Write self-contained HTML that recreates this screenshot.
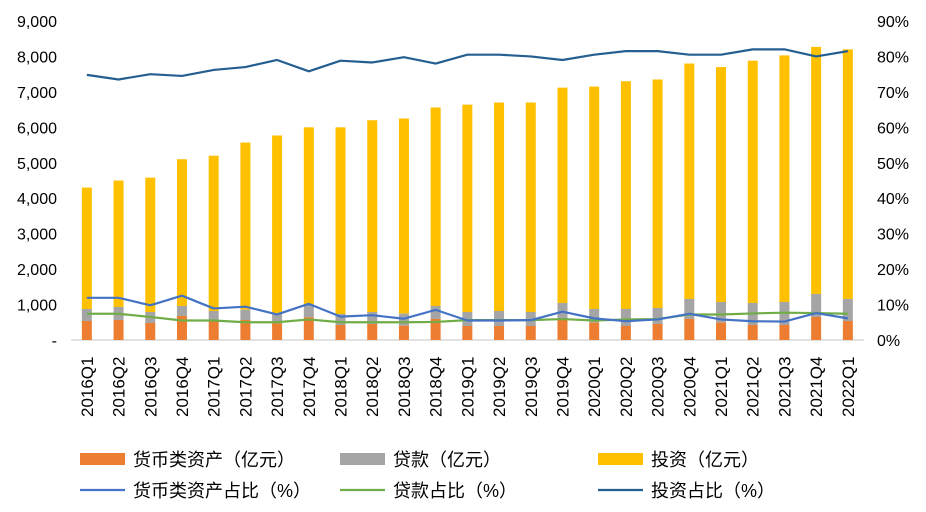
<!DOCTYPE html>
<html><head><meta charset="utf-8"><style>
body{margin:0;background:#fff;}
svg text{font-family:"Liberation Sans","Noto Sans CJK SC",sans-serif;}
</style></head><body>
<svg width="926" height="507" id="c"></svg>
<script>
const categories=["2016Q1","2016Q2","2016Q3","2016Q4","2017Q1","2017Q2","2017Q3","2017Q4","2018Q1","2018Q2","2018Q3","2018Q4","2019Q1","2019Q2","2019Q3","2019Q4","2020Q1","2020Q2","2020Q3","2020Q4","2021Q1","2021Q2","2021Q3","2021Q4","2022Q1"];
const monetary=[536,565,480,678,545,565,470,640,423,451,404,593,395,395,395,565,489,395,451,593,489,423,423,650,536];
const loans=[339,367,310,282,273,290,254,367,311,339,339,367,395,423,395,480,386,480,452,565,584,622,650,650,622];
const totals=[4300,4500,4580,5100,5200,5570,5770,6000,6000,6200,6250,6560,6640,6700,6700,7120,7150,7300,7350,7800,7700,7880,8030,8270,8200];
const monetaryPct=[11.9,11.9,9.8,12.5,8.9,9.4,7.2,10.2,6.6,7.0,6.0,8.5,5.5,5.5,5.6,8.0,6.1,5.3,5.8,7.4,5.8,5.3,5.2,7.6,6.1];
const loanPct=[7.4,7.4,6.5,5.5,5.5,5.0,5.0,5.8,5.0,5.0,5.0,5.1,5.6,5.6,5.6,5.9,5.5,5.8,5.9,7.2,7.2,7.5,7.7,7.6,7.4];
const investPct=[74.8,73.5,75,74.5,76.2,77,79,75.8,78.8,78.3,79.8,78,80.5,80.5,80,79,80.5,81.5,81.5,80.5,80.5,82,82,80,81.5];
const leftTicks=["-","1,000","2,000","3,000","4,000","5,000","6,000","7,000","8,000","9,000"];
const rightTicks=["0%","10%","20%","30%","40%","50%","60%","70%","80%","90%"];

const svg=document.getElementById('c');const NS="http://www.w3.org/2000/svg";
function mk(t,a,p){const e=document.createElementNS(NS,t);for(const k in a)e.setAttribute(k,a[k]);(p||svg).appendChild(e);return e;}
const X0=71,X1=863.7,Y0=340,Y1=21;
const step=(X1-X0)/categories.length;
const xc=i=>X0+step*(i+0.5);
const yL=v=>Y0-(v/9000)*(Y0-Y1);
const yR=v=>Y0-(v/90)*(Y0-Y1);
leftTicks.forEach((t,i)=>{const e=mk('text',{x:57,y:yL(i*1000)+6,'text-anchor':'end','font-size':16,fill:'#000'});e.textContent=t;
});
rightTicks.forEach((t,i)=>{const e=mk('text',{x:877,y:yR(i*10)+6,'font-size':16,fill:'#000'});e.textContent=t;
});
const ax=mk('line',{x1:X0,x2:X1,y1:Y0,y2:Y0,stroke:'#d9d9d9','stroke-width':1.5});

const bw=10;
categories.forEach((c,i)=>{
  const x=xc(i)-bw/2;
  const m=monetary[i],l=loans[i],t=totals[i];
  let r=mk('rect',{x:x,y:yL(t),width:bw,height:yL(m+l)-yL(t),fill:'#ffc000'});
  
  r=mk('rect',{x:x,y:yL(m+l),width:bw,height:yL(m)-yL(m+l),fill:'#a5a5a5'});
  
  r=mk('rect',{x:x,y:yL(m),width:bw,height:Y0-yL(m),fill:'#ed7d31'});
  
  const tx=xc(i)+6;
  const e=mk('text',{x:tx,y:417,'font-size':17,fill:'#000',transform:`rotate(-90 ${tx} 417)`});e.textContent=c;
  
});
function line(arr,col,name){const p=arr.map((v,i)=>xc(i)+','+yR(v)).join(' ');
 const e=mk('polyline',{points:p,fill:'none',stroke:col,'stroke-width':2.2,'stroke-linejoin':'round'});
 }
line(investPct,'#255e91','line-investment-pct');
line(loanPct,'#70ad47','line-loan-pct');
line(monetaryPct,'#4472c4','line-monetary-pct');
const leg=[[80,459,'rect','#ed7d31','货币类资产（亿元）'],[340,459,'rect','#a5a5a5','贷款（亿元）'],[598,459,'rect','#ffc000','投资（亿元）'],
[80,490,'line','#4472c4','货币类资产占比（%）'],[340,490,'line','#70ad47','贷款占比（%）'],[598,490,'line','#255e91','投资占比（%）']];
leg.forEach(([x,y,k,c,t])=>{const g=mk('g',{});
 
 if(k==='rect')mk('rect',{x:x,y:y-6,width:45,height:12,fill:c},g);else mk('line',{x1:x,x2:x+45,y1:y,y2:y,stroke:c,'stroke-width':2.2},g);
 const e=mk('text',{x:x+53,y:y+7,'font-size':18,fill:'#000'},g);e.textContent=t;});
</script>
</body></html>
